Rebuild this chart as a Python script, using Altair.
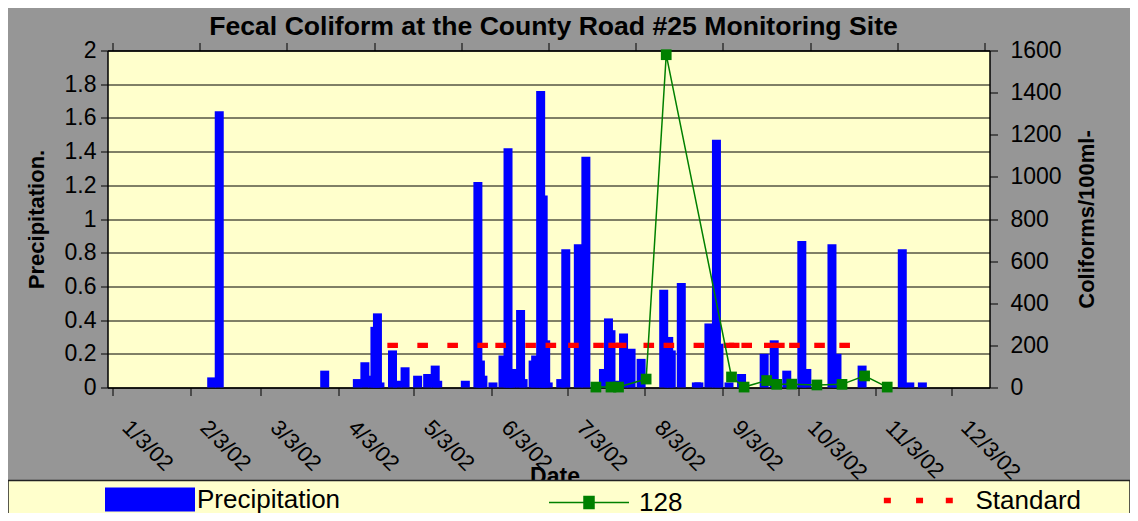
import altair as alt
import pandas as pd

FONT = "Liberation Sans"

# ---------------- data ----------------
precip_dates = [
    "2002-02-11", "2002-02-14", "2002-03-28", "2002-04-10", "2002-04-13", "2002-04-16",
    "2002-04-17", "2002-04-18", "2002-04-19", "2002-04-24", "2002-04-26", "2002-04-29",
    "2002-05-04", "2002-05-08", "2002-05-11", "2002-05-12", "2002-05-23", "2002-05-28",
    "2002-05-29", "2002-05-30", "2002-06-03", "2002-06-07", "2002-06-09", "2002-06-10",
    "2002-06-11", "2002-06-14", "2002-06-15", "2002-06-19", "2002-06-20", "2002-06-22",
    "2002-06-23", "2002-06-24", "2002-06-25", "2002-06-30", "2002-07-02", "2002-07-07",
    "2002-07-10", "2002-07-17", "2002-07-19", "2002-07-20", "2002-07-22", "2002-07-25",
    "2002-07-28", "2002-08-01", "2002-08-10", "2002-08-12", "2002-08-13", "2002-08-17",
    "2002-08-23", "2002-08-24", "2002-08-28", "2002-08-31", "2002-09-01", "2002-09-05",
    "2002-09-10", "2002-09-19", "2002-09-23", "2002-09-28", "2002-10-04", "2002-10-06",
    "2002-10-16", "2002-10-18", "2002-10-28", "2002-11-13", "2002-11-16", "2002-11-21",
]
precip_values = [
    0.06, 1.64, 0.10, 0.05, 0.15, 0.07,
    0.36, 0.44, 0.03, 0.22, 0.04, 0.12,
    0.07, 0.08, 0.13, 0.04, 0.04, 1.22,
    0.16, 0.07, 0.03, 0.19, 1.42, 0.08,
    0.11, 0.46, 0.05, 0.16, 0.19, 1.76,
    1.14, 0.28, 0.03, 0.05, 0.82, 0.85,
    1.37, 0.11, 0.41, 0.34, 0.04, 0.32,
    0.23, 0.17, 0.58, 0.30, 0.22, 0.62,
    0.03, 0.03, 0.38, 1.47, 0.26, 0.03,
    0.08, 0.20, 0.28, 0.10, 0.87, 0.11,
    0.85, 0.20, 0.13, 0.82, 0.03, 0.03,
]

coliform_dates = [
    "2002-07-14", "2002-07-20", "2002-07-23", "2002-08-03", "2002-08-11", "2002-09-06",
    "2002-09-11", "2002-09-20", "2002-09-24", "2002-09-30", "2002-10-10", "2002-10-20",
    "2002-10-29", "2002-11-07",
]
coliform_values = [2, 2, 2, 40, 1580, 50, 2, 33, 15, 16, 12, 15, 55, 2]

standard_dates = [
    "2002-04-23", "2002-06-05", "2002-06-25", "2002-07-04", "2002-07-14", "2002-07-20",
    "2002-07-23", "2002-08-03", "2002-08-11", "2002-09-06", "2002-09-11", "2002-09-20",
    "2002-09-24", "2002-09-30", "2002-10-10", "2002-10-20", "2002-10-29",
]
standard_value = 200

month_ticks = [
    "2002-01-03", "2002-02-03", "2002-03-03", "2002-04-03", "2002-05-03", "2002-06-03",
    "2002-07-03", "2002-08-03", "2002-09-03", "2002-10-03", "2002-11-03", "2002-12-03",
]
x_start = "2002-01-03"
x_end = "2002-12-16T06:00:00"
left_ticks = [0, 0.2, 0.4, 0.6, 0.8, 1, 1.2, 1.4, 1.6, 1.8, 2]
right_ticks = [0, 200, 400, 600, 800, 1000, 1200, 1400, 1600]


def ms(s):
    return int(pd.Timestamp(s, tz="UTC").value // 10**6)


precip_df = pd.DataFrame({"date": precip_dates, "precip": precip_values})
coli_df = pd.DataFrame({"date": coliform_dates, "coliform": coliform_values})
seg_rows = []
for i in range(len(standard_dates) - 1):
    seg_rows.append({"seg": i, "date": standard_dates[i], "value": standard_value})
    seg_rows.append({"seg": i, "date": standard_dates[i + 1], "value": standard_value})
std_df = pd.DataFrame(seg_rows)

d0, d1 = ms(x_start), ms(x_end)
top_ticks = [d0 + (d1 - d0) * k / 10 for k in range(11)]

W, H = 882, 337
XOFF = 1.27

x_scale = alt.Scale(type="utc", domain=[d0, d1], nice=False)
y_left_scale = alt.Scale(domain=[0, 2], nice=False, zero=True)
y_right_scale = alt.Scale(domain=[0, 1600], nice=False, zero=True)

x_axis_bottom = alt.Axis(
    orient="bottom", values=[ms(m) for m in month_ticks],
    labelExpr="utcFormat(datum.value, '%-m/%-d/%y')",
    labelAngle=45, labelAlign="left", labelBaseline="middle",
    labelFontSize=22, labelFont=FONT, labelColor="black",
    labelPadding=28, labelOffset=13, labelFlush=False, labelOverlap=False,
    tickSize=8, tickColor="black", domainColor="black", grid=False,
    title="Date", titleFont=FONT, titleFontSize=23, titleFontWeight="bold",
    titleColor="black", titleX=447, titleY=96, titleBaseline="alphabetic",
    titleAlign="center",
)
x_axis_top = alt.Axis(
    orient="top", values=top_ticks, labels=False, tickSize=8, tickColor="black",
    domainColor="black", grid=False, title=None,
)
y_axis_left = alt.Axis(
    orient="left", values=left_ticks, format="~g", grid=True, gridColor="black",
    gridWidth=1, gridOpacity=1, tickSize=7, tickColor="black", domainColor="black",
    labelFont=FONT, labelFontSize=23, labelColor="black", labelPadding=4.5,
    title="Precipitation.", titleFont=FONT, titleFontSize=22, titleFontWeight="bold",
    titleColor="black", titleAngle=270, titleX=-64.5, titleY=H / 2,
    titleBaseline="alphabetic", titleAlign="center",
)
y_axis_right = alt.Axis(
    orient="right", values=right_ticks, format="d", grid=False, tickSize=8,
    tickColor="black", domainColor="black", labelFont=FONT, labelFontSize=23,
    labelColor="black", labelPadding=12.5,
    title="Coliforms/100ml-", titleFont=FONT, titleFontSize=22, titleFontWeight="bold",
    titleColor="black", titleAngle=270, titleX=104, titleY=H / 2,
    titleBaseline="alphabetic", titleAlign="center",
)

leg_common = dict(orient="none", title=None, padding=0, labelFont=FONT,
                  labelFontSize=26, labelColor="black", labelLimit=300)

bars = alt.Chart(precip_df).transform_calculate(series="'Precipitation'").mark_bar(
    size=9, xOffset=XOFF
).encode(
    x=alt.X("date:T", scale=x_scale, axis=x_axis_bottom),
    y=alt.Y("precip:Q", scale=y_left_scale, axis=y_axis_left),
    color=alt.Color(
        "series:N", scale=alt.Scale(domain=["Precipitation"], range=["#0000FF"]),
        legend=alt.Legend(
            legendX=-2.5, legendY=404, symbolType="M-1,-0.267H1V0.267H-1Z",
            symbolSize=8100, symbolFillColor="#0000FF", symbolStrokeWidth=0,
            labelOffset=2, **leg_common,
        ),
    ),
)

standard = alt.Chart(std_df).transform_calculate(series="'Standard'").mark_line(
    strokeWidth=5.3, strokeDash=[5.3, 24.7], strokeCap="square", xOffset=XOFF
).encode(
    x=alt.X("date:T", scale=x_scale, axis=x_axis_top),
    y=alt.Y("value:Q", scale=y_right_scale, axis=y_axis_right),
    detail="seg:N",
    color=alt.Color(
        "series:N", scale=alt.Scale(domain=["Standard"], range=["#FF0000"]),
        legend=alt.Legend(
            legendX=776, legendY=415,
            symbolType="M-0.99,-0.08H-0.79V0.08H-0.99Z M-0.07,-0.08H0.13V0.08H-0.07Z M0.78,-0.08H0.98V0.08H0.78Z",
            symbolSize=4900, symbolFillColor="#FF0000", symbolStrokeWidth=0,
            symbolDash=[1, 0], labelOffset=22, **leg_common,
        ),
    ),
)

line128 = alt.Chart(coli_df).mark_line(
    color="#008000", strokeWidth=1.5, xOffset=XOFF
).encode(
    x=alt.X("date:T", scale=x_scale, axis=x_axis_top),
    y=alt.Y("coliform:Q", scale=y_right_scale, axis=y_axis_right),
)

points128 = alt.Chart(coli_df).transform_calculate(series="'128'").mark_square(
    size=115, filled=True, opacity=1, xOffset=XOFF
).encode(
    x=alt.X("date:T", scale=x_scale, axis=x_axis_top),
    y=alt.Y("coliform:Q", scale=y_right_scale, axis=y_axis_right),
    color=alt.Color(
        "series:N", scale=alt.Scale(domain=["128"], range=["#008000"]),
        legend=alt.Legend(
            legendX=440.5, legendY=411,
            symbolType="M-1,0H1M-0.125,-0.15H0.125V0.15H-0.125Z",
            symbolSize=6400, symbolFillColor="#008000", symbolStrokeColor="#008000",
            symbolStrokeWidth=1.5, symbolOpacity=1, labelOffset=9, **leg_common,
        ),
    ),
)

band = alt.Chart(pd.DataFrame({"k": [0]})).mark_rect(
    fill="#FFFFCC", stroke="#222222", strokeWidth=1.5
).encode(
    x=alt.value(-99.5), x2=alt.value(1022.5), y=alt.value(430), y2=alt.value(470)
)

right_group = alt.layer(standard, alt.layer(line128, points128)).resolve_scale(color="independent")

chart = alt.layer(bars, right_group, band).resolve_scale(
    y="independent", color="independent"
).resolve_axis(x="independent").properties(
    width=W, height=H,
    title=alt.TitleParams(
        "Fecal Coliform at the County Road #25 Monitoring Site", font=FONT,
        fontSize=26.6, fontWeight="bold", color="black", anchor="middle",
        baseline="alphabetic", offset=5, dx=5, dy=27,
    ),
    autosize=alt.AutoSizeParams(type="none"),
    padding={"left": 99.5, "top": 42.5, "right": 140.5, "bottom": 125.5},
).configure(background="#969696", font=FONT).configure_view(
    fill="#FFFFCC", stroke="black", strokeWidth=1
)

chart.save("out.html", embed_options={"renderer": "svg", "actions": False})
